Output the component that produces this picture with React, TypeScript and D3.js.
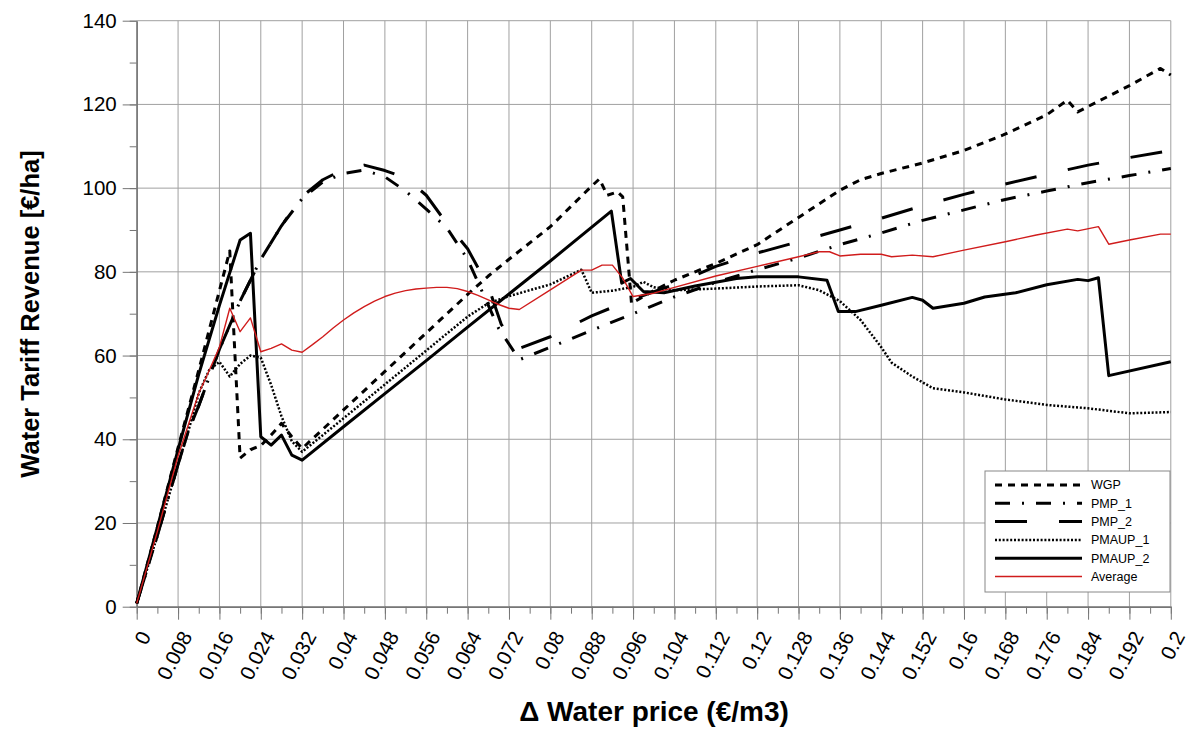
import React, { useEffect, useRef } from "react";
import * as d3 from "d3";

type Pt = [number, number];

const X_TICKS = d3.range(0, 26).map((i) => +(i * 0.008).toFixed(3));
const X_MINOR = d3.range(0, 51).map((i) => +(i * 0.004).toFixed(3));
const Y_TICKS = [0, 20, 40, 60, 80, 100, 120, 140];
const Y_MINOR = d3.range(0, 15).map((i) => i * 10);

const WGP: Pt[] = [
  [0, 0.8], [0.004, 19], [0.008, 38], [0.012, 56.5], [0.016, 75.5], [0.018, 85],
  [0.02, 35.5], [0.022, 37.5], [0.024, 38.5], [0.026, 41], [0.028, 43.8], [0.03, 40.6],
  [0.032, 37.8], [0.04, 47], [0.048, 56.2], [0.056, 65.4], [0.064, 74.6], [0.068, 79],
  [0.072, 83], [0.08, 90.8], [0.088, 100.5], [0.0895, 102.2], [0.091, 98.3], [0.093, 99.1],
  [0.094, 97.9], [0.0957, 72.5], [0.1, 75.5], [0.104, 78], [0.112, 82], [0.12, 86.5],
  [0.128, 93], [0.136, 99.5], [0.14, 102], [0.144, 103.5], [0.152, 106], [0.16, 109],
  [0.1676, 112.7], [0.176, 117.5], [0.18, 121], [0.182, 118.2], [0.184, 119.5],
  [0.192, 124.5], [0.198, 128.6], [0.2, 127],
];

const PMP_1: Pt[] = [
  [0, 0.8], [0.004, 17], [0.008, 34], [0.01, 42], [0.012, 48], [0.016, 61.5], [0.02, 73],
  [0.024, 83], [0.028, 91], [0.032, 97.5], [0.036, 101.5], [0.04, 103.5], [0.044, 104.3],
  [0.048, 102.7], [0.052, 99.3], [0.056, 95], [0.06, 90.5], [0.064, 83], [0.066, 77.5],
  [0.07, 66.5], [0.074, 59], [0.08, 62], [0.088, 66], [0.096, 70], [0.104, 74],
  [0.112, 77.5], [0.12, 80.5], [0.128, 83.3], [0.136, 86.5], [0.144, 89.3], [0.152, 92.3],
  [0.16, 94.8], [0.168, 97.3], [0.176, 99.3], [0.184, 101.3], [0.192, 103], [0.2, 104.7],
];

const PMP_2: Pt[] = [
  [0, 0.8], [0.004, 17], [0.008, 34], [0.01, 42], [0.012, 48], [0.016, 61.5], [0.02, 73],
  [0.024, 83], [0.028, 91], [0.032, 98], [0.036, 102], [0.04, 104.5], [0.044, 105.5],
  [0.048, 104.2], [0.052, 102.5], [0.056, 98.3], [0.06, 91.5], [0.064, 85.5], [0.068, 76.5],
  [0.0705, 67.5], [0.0735, 61.5], [0.08, 64.5], [0.088, 69.5], [0.096, 73.5], [0.104, 77],
  [0.112, 81.3], [0.12, 84.5], [0.128, 87.2], [0.136, 90], [0.144, 92.8], [0.152, 95.8],
  [0.16, 98.5], [0.168, 101], [0.176, 103.3], [0.184, 105.5], [0.192, 107.3], [0.2, 109],
];

const PMAUP_1: Pt[] = [
  [0, 0.8], [0.004, 17], [0.008, 34], [0.01, 42], [0.012, 51], [0.014, 56.5], [0.016, 58.5],
  [0.018, 55], [0.02, 58], [0.022, 60], [0.024, 59.5], [0.026, 53], [0.028, 45.5],
  [0.03, 39.5], [0.032, 37], [0.04, 45], [0.048, 53.1], [0.056, 61.2], [0.064, 69.3],
  [0.068, 72.5], [0.072, 74.2], [0.08, 77], [0.086, 80.5], [0.088, 75], [0.092, 75.5],
  [0.096, 76.4], [0.098, 77.6], [0.1, 76.3], [0.104, 75.6], [0.112, 76], [0.12, 76.5],
  [0.128, 76.8], [0.132, 75.6], [0.136, 73], [0.14, 68.5], [0.144, 62], [0.146, 58.3],
  [0.15, 55], [0.154, 52.2], [0.16, 51.2], [0.168, 49.5], [0.176, 48.2], [0.184, 47.4],
  [0.192, 46.2], [0.2, 46.5],
];

const PMAUP_2: Pt[] = [
  [0, 0.8], [0.004, 19], [0.008, 37.5], [0.012, 55.5], [0.016, 72], [0.02, 87.6],
  [0.022, 89.2], [0.024, 40.6], [0.026, 38.6], [0.028, 41], [0.03, 36.2], [0.032, 35],
  [0.04, 43], [0.048, 50.9], [0.056, 58.8], [0.064, 66.8], [0.072, 74.7], [0.08, 82.6],
  [0.0918, 94.5], [0.0938, 77.3], [0.0955, 78.4], [0.098, 75.3], [0.102, 75], [0.108, 76.6],
  [0.116, 78.4], [0.12, 78.8], [0.128, 78.8], [0.1335, 78], [0.1357, 70.5], [0.139, 70.5],
  [0.144, 72], [0.15, 73.9], [0.152, 73.2], [0.154, 71.3], [0.16, 72.5], [0.164, 74],
  [0.17, 75], [0.176, 76.9], [0.182, 78.2], [0.184, 77.9], [0.186, 78.6], [0.188, 55.2],
  [0.2, 58.5],
];

const AVERAGE: Pt[] = [
  [0, 0.8], [0.004, 18], [0.008, 36], [0.012, 51], [0.0135, 55], [0.016, 62], [0.018, 71.3],
  [0.02, 65.7], [0.022, 69], [0.024, 60.9], [0.026, 61.7], [0.028, 62.8], [0.03, 61.3],
  [0.032, 60.8], [0.034, 62.6], [0.036, 64.5], [0.038, 66.6], [0.04, 68.5], [0.042, 70.2],
  [0.044, 71.7], [0.046, 73], [0.048, 74.1], [0.05, 74.9], [0.052, 75.5], [0.054, 75.9],
  [0.056, 76.1], [0.058, 76.3], [0.06, 76.3], [0.062, 76], [0.064, 75.3], [0.066, 74.4],
  [0.068, 73.3], [0.07, 72.2], [0.072, 71.3], [0.074, 71],
  [0.08, 75.7], [0.086, 80.4], [0.088, 80.4], [0.09, 81.6], [0.092, 81.6], [0.094, 78.5],
  [0.096, 74.1], [0.1, 74.9], [0.104, 76.3], [0.112, 79], [0.12, 81.3], [0.128, 83.6],
  [0.132, 84.8], [0.134, 84.8], [0.136, 83.8], [0.14, 84.2], [0.144, 84.2], [0.146, 83.6],
  [0.15, 84], [0.154, 83.6], [0.16, 85.2], [0.168, 87.2], [0.174, 88.8], [0.18, 90.2],
  [0.182, 89.8], [0.186, 90.8], [0.188, 86.6], [0.192, 87.6], [0.198, 89], [0.2, 89],
];

const SERIES = [
  { name: "WGP", data: WGP, color: "#000", width: 3, dash: "7,6" },
  { name: "PMP_1", data: PMP_1, color: "#000", width: 3, dash: "15,12,2,12" },
  { name: "PMP_2", data: PMP_2, color: "#000", width: 3, dash: "32,32" },
  { name: "PMAUP_1", data: PMAUP_1, color: "#000", width: 2.5, dash: "2,1.8" },
  { name: "PMAUP_2", data: PMAUP_2, color: "#000", width: 3, dash: null },
  { name: "Average", data: AVERAGE, color: "#d01c1c", width: 1.4, dash: null },
];

const W = 1189;
const H = 729;
const FONT = "Arial, 'Liberation Sans', sans-serif";

export default function App() {
  const svgRef = useRef<SVGSVGElement>(null);

  useEffect(() => {
    const svg = d3.select(svgRef.current);
    svg.selectAll("*").remove();

    const x = d3.scaleLinear().domain([0, 0.2]).range([136.7, 1170.8]);
    const y = d3.scaleLinear().domain([0, 140]).range([606.7, 20.7]);
    const gridColor = "#a0a0a0";
    const axisColor = "#767676";

    // Grid
    svg.append("g")
      .selectAll("line")
      .data(X_TICKS)
      .join("line")
      .attr("x1", (d) => x(d)).attr("x2", (d) => x(d))
      .attr("y1", y(0)).attr("y2", y(140))
      .attr("stroke", gridColor).attr("stroke-width", 1);

    svg.append("g")
      .selectAll("line")
      .data(Y_TICKS)
      .join("line")
      .attr("x1", x(0)).attr("x2", x(0.2))
      .attr("y1", (d) => y(d)).attr("y2", (d) => y(d))
      .attr("stroke", gridColor).attr("stroke-width", 1);

    // Minor ticks
    svg.append("g")
      .attr("transform", `translate(0,${y(0)})`)
      .call(d3.axisBottom(x).tickValues(X_MINOR).tickSize(7).tickFormat(() => ""))
      .call((g) => g.select(".domain").remove())
      .call((g) => g.selectAll(".tick line").attr("stroke", axisColor));

    svg.append("g")
      .attr("transform", `translate(${x(0)},0)`)
      .call(d3.axisLeft(y).tickValues(Y_MINOR).tickSize(7).tickFormat(() => ""))
      .call((g) => g.select(".domain").remove())
      .call((g) => g.selectAll(".tick line").attr("stroke", axisColor));

    // Major axes
    svg.append("g")
      .attr("transform", `translate(0,${y(0)})`)
      .call(d3.axisBottom(x).tickValues(X_TICKS).tickSize(13).tickSizeOuter(0)
        .tickFormat((d) => String(+(+d).toFixed(3))))
      .call((g) => g.select(".domain").attr("stroke", axisColor).attr("stroke-width", 1.5))
      .call((g) => g.selectAll(".tick line").attr("stroke", axisColor))
      .call((g) => g.selectAll(".tick text")
        .attr("fill", "#000")
        .style("font-family", FONT)
        .style("font-size", "20.5px")
        .attr("text-anchor", "end")
        .attr("x", 0).attr("y", 0).attr("dy", "0.35em")
        .attr("transform", "translate(8,26) rotate(-62)"));

    svg.append("g")
      .attr("transform", `translate(${x(0)},0)`)
      .call(d3.axisLeft(y).tickValues(Y_TICKS).tickSize(14).tickSizeOuter(0).tickPadding(6))
      .call((g) => g.select(".domain").attr("stroke", axisColor).attr("stroke-width", 1.5))
      .call((g) => g.selectAll(".tick line").attr("stroke", axisColor))
      .call((g) => g.selectAll(".tick text")
        .attr("fill", "#000")
        .style("font-family", FONT)
        .style("font-size", "20.5px"));

    // Axis titles
    svg.append("text")
      .attr("x", 654).attr("y", 721)
      .attr("text-anchor", "middle")
      .style("font-family", FONT).style("font-size", "28px").style("font-weight", 700)
      .text("\u0394 Water price (\u20ac/m3)");

    svg.append("text")
      .attr("transform", `translate(39,314) rotate(-90)`)
      .attr("text-anchor", "middle")
      .style("font-family", FONT).style("font-size", "25.5px").style("font-weight", 700)
      .text("Water Tariff Revenue [\u20ac/ha]");

    // Series
    const line = d3.line<Pt>().x((d) => x(d[0])).y((d) => y(d[1]));
    SERIES.forEach((s) => {
      svg.append("path")
        .datum(s.data)
        .attr("d", line)
        .attr("fill", "none")
        .attr("stroke", s.color)
        .attr("stroke-width", s.width)
        .attr("stroke-linejoin", "round")
        .attr("stroke-dasharray", s.dash);
    });

    // Legend
    const lg = svg.append("g").attr("transform", "translate(985,471)");
    lg.append("rect")
      .attr("width", 185).attr("height", 121)
      .attr("fill", "#fff").attr("stroke", "#888").attr("stroke-width", 1);
    SERIES.forEach((s, i) => {
      const yy = 14 + i * 18.3;
      lg.append("line")
        .attr("x1", 10).attr("x2", 97).attr("y1", yy).attr("y2", yy)
        .attr("stroke", s.color)
        .attr("stroke-width", s.width)
        .attr("stroke-dasharray", s.dash);
      lg.append("text")
        .attr("x", 106).attr("y", yy).attr("dy", "0.35em")
        .style("font-family", FONT).style("font-size", "12.5px")
        .text(s.name);
    });
  }, []);

  return (
    <svg
      ref={svgRef}
      width={W}
      height={H}
      style={{ position: "absolute", left: 0, top: 0, background: "#fff" }}
    />
  );
}
